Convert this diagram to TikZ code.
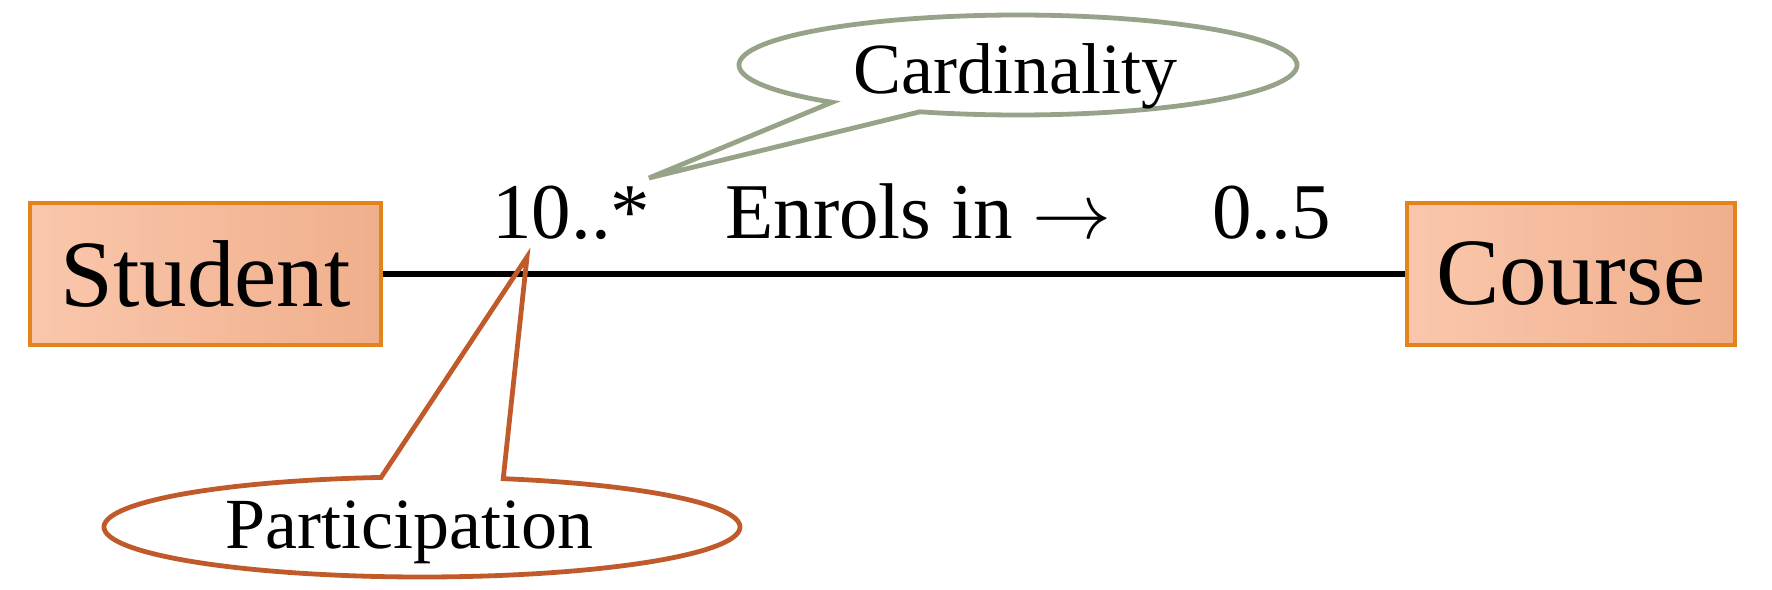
\RequirePackage{fix-cm}
\documentclass[tikz,border=0pt]{standalone}
\usepackage{fontspec}
\setmainfont{Liberation Serif}
\definecolor{boxborder}{HTML}{E3831B}
\definecolor{boxA}{HTML}{FAC7AC}
\definecolor{boxB}{HTML}{F0AF8C}
\definecolor{cardcol}{HTML}{97A389}
\definecolor{partcol}{HTML}{C05A2B}
\begin{document}
\begin{tikzpicture}[x=0.5pt,y=-0.5pt,
  entity/.style={draw=boxborder, line width=2pt, left color=boxA, right color=boxB, inner sep=0pt, minimum height=71pt, font=\fontsize{47.5}{50}\selectfont},
  mult/.style={inner sep=0pt, anchor=base west, font=\fontsize{39.5}{42}\selectfont},
  calltext/.style={inner sep=0pt, anchor=base west, font=\fontsize{36}{38}\selectfont},
  cardshape/.style={draw=cardcol, line width=2.4pt, line join=miter},
  partshape/.style={draw=partcol, line width=2.4pt, line join=miter},
  assoc/.style={line width=3pt}
]
\useasboundingbox (0,0) rectangle (1772,589);
\node[entity, minimum width=175.5pt] (student) at (205.5,274) {Student};
\node[entity, minimum width=164pt] (course) at (1571,274) {Course};
\draw[assoc] (student.east) -- (course.west);
\node[mult] (lower) at (492,238) {10..*};
\node[mult] (role) at (725,238) {Enrols in $\rightarrow$};
\node[mult] (upper) at (1212,238) {0..5};
\coordinate (cardtip) at (649,178);
\coordinate (parttip) at (527,257);
\draw[cardshape] plot[domain=131.8:470.6, samples=150] ({1018+279*cos(\x)},{65+50*sin(\x)}) -- (cardtip) -- cycle;
\node[calltext] (card) at (853,93) {Cardinality};
\draw[partshape] plot[domain=284.8:622.6, samples=150] ({422+318*cos(\x)},{527+50*sin(\x)}) -- (parttip) -- cycle;
\node[calltext] (part) at (225,548) {Participation};
\end{tikzpicture}
\end{document}
